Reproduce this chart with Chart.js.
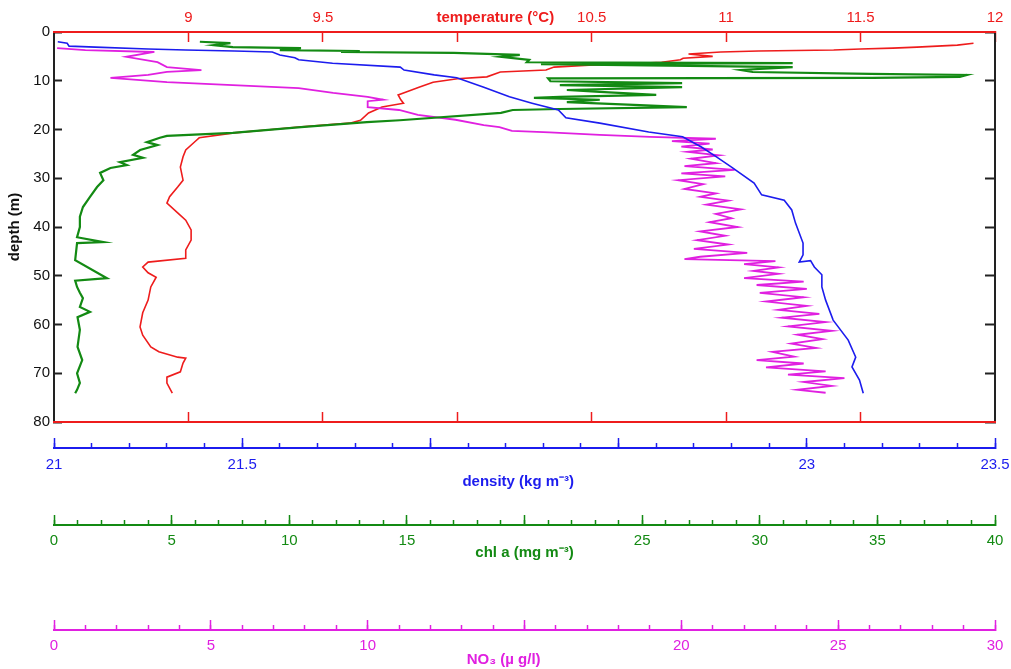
<!DOCTYPE html>
<html>
<head>
<meta charset="utf-8">
<title>Depth profile</title>
<script src="https://cdn.jsdelivr.net/npm/chart.js@4.4.0/dist/chart.umd.min.js"></script>
<style>
    html, body { margin: 0; padding: 0; background: #fff; }
    #wrap { width: 1011px; height: 669px; }
</style>
</head>
<body>
<div id="wrap"><canvas id="profileChart" width="1011" height="669"></canvas></div>
<script>
// Temperature profile (degC) against depth (m)
const tempDepth = [2.3, 2.7, 3.1, 3.3, 3.5, 3.7, 3.9, 4.1, 4.5, 5.0, 5.4, 5.7, 6.2, 6.4, 6.8, 7.2, 7.8, 8.2, 9.2, 9.6,
    10.3, 11.3, 12.3, 12.9, 13.9, 14.6, 15.4, 16.6, 18.1, 18.7, 19.5, 20.1, 20.7, 21.7, 22.2, 24.2, 25.6, 27.7, 30.4, 31.8,
    33.8, 35.1, 37.1, 38.6, 40.6, 42.7, 44.7, 46.4, 47.2, 48.2, 49.4, 50.3, 52.3, 55.0, 57.6, 60.5, 62.2, 64.6, 65.6, 66.7,
    66.9, 67.9, 69.7, 70.8, 72.0, 74.1];
const tempValues = [11.92, 11.86, 11.71, 11.62, 11.50, 11.40, 11.12, 10.98, 10.86, 10.95, 10.84, 10.83, 10.76, 10.68, 10.49, 10.36, 10.33, 10.16, 10.11, 10.00,
    9.91, 9.86, 9.81, 9.78, 9.79, 9.80, 9.72, 9.67, 9.64, 9.60, 9.41, 9.29, 9.17, 9.04, 9.03, 8.99, 8.98, 8.97, 8.98, 8.96,
    8.93, 8.92, 8.96, 8.99, 9.01, 9.01, 8.99, 8.99, 8.85, 8.83, 8.85, 8.88, 8.86, 8.85, 8.83, 8.82, 8.83, 8.86, 8.89, 8.96,
    8.99, 8.98, 8.97, 8.92, 8.92, 8.94];

// Density (kg m-3)
const densDepth = [2.0, 2.3, 2.9, 3.1, 3.5, 3.7, 3.9, 4.1, 4.7, 5.3, 5.7, 6.4, 7.2, 7.8, 8.8, 9.4, 11.3, 13.3, 14.6, 16.0,
    17.6, 18.7, 20.5, 21.5, 23.6, 25.6, 27.7, 31.0, 33.4, 34.5, 36.5, 39.2, 43.3, 45.7, 47.2, 46.9, 48.2, 49.8, 52.3, 55.0,
    59.1, 63.2, 66.7, 68.7, 71.4, 74.1];
const densValues = [21.01, 21.035, 21.04, 21.11, 21.25, 21.35, 21.48, 21.58, 21.60, 21.64, 21.65, 21.74, 21.92, 21.93, 22.01, 22.07, 22.14, 22.21, 22.27, 22.34,
    22.36, 22.45, 22.58, 22.67, 22.72, 22.76, 22.80, 22.86, 22.88, 22.94, 22.96, 22.97, 22.99, 22.99, 22.98, 23.01, 23.02, 23.04, 23.04, 23.05,
    23.07, 23.11, 23.13, 23.12, 23.14, 23.15];

// Chlorophyll a (mg m-3)
const chlDepth = [2.0, 2.3, 2.7, 3.1, 3.3, 3.7, 3.9, 4.1, 4.3, 4.7, 5.1, 5.7, 6.2, 6.4, 6.6, 7.0, 7.2, 7.8, 8.2, 8.6,
    8.8, 9.2, 9.4, 9.5, 10.1, 10.5, 10.9, 11.3, 11.9, 12.3, 12.9, 13.3, 13.5, 13.9, 14.4, 15.0, 15.4, 15.8, 16.0, 16.6,
    18.1, 18.5, 19.5, 20.7, 21.3, 21.7, 22.6, 23.2, 24.2, 25.2, 25.8, 26.7, 27.3, 27.9, 28.9, 30.4, 31.8, 33.8, 35.9, 37.9,
    40.0, 42.1, 43.1, 43.3, 46.8, 50.5, 51.0, 52.3, 53.5, 54.6, 56.4, 57.4, 58.5, 61.1, 64.6, 67.3, 70.0, 72.0, 73.4, 74.1];
const chlValues = [6.2, 7.5, 6.8, 7.6, 10.5, 9.6, 13.0, 12.2, 17.0, 19.8, 19.0, 20.2, 20.1, 31.4, 20.7, 27.9, 31.4, 29.2, 29.7, 34.7,
    38.8, 38.5, 34.8, 21.0, 21.1, 26.7, 21.5, 26.7, 21.8, 23.2, 25.6, 21.5, 20.4, 23.2, 21.8, 24.9, 26.9, 21.5, 19.5, 19.0,
    14.7, 13.3, 10.5, 7.6, 4.8, 4.5, 3.95, 4.4, 3.66, 3.36, 3.78, 2.8, 3.1, 2.4, 1.96, 2.1, 1.83, 1.53, 1.23, 1.1,
    1.1, 0.98, 2.1, 0.98, 0.9, 2.25, 0.9, 0.98, 1.1, 1.23, 1.1, 1.53, 1.0, 1.1, 1.0, 1.2, 0.98, 1.1, 0.98, 0.9];

// Nitrate (ug/l)
const no3Depth = [3.3, 3.7, 4.1, 5.1, 6.2, 7.2, 7.8, 8.2, 8.8, 9.4, 10.3, 10.9, 11.5, 12.5, 13.3, 13.9, 14.2, 15.4, 16.0, 17.0,
    18.0, 19.1, 19.5, 20.3, 20.6, 21.1, 21.5, 21.9, 22.4, 22.9, 23.5, 24.1, 24.6, 25.3, 26.0, 26.9, 27.5, 28.3, 29.0, 29.6,
    30.4, 31.2, 32.2, 33.1, 33.8, 34.6, 35.4, 36.4, 37.3, 38.2, 39.0, 40.0, 40.9, 41.8, 42.7, 43.6, 44.5, 45.3, 46.1, 46.6,
    47.0, 47.6, 48.3, 49.0, 49.6, 50.5, 51.2, 51.9, 52.7, 53.5, 54.4, 55.3, 56.2, 57.0, 57.8, 58.6, 59.5, 60.4, 61.3, 62.1,
    63.0, 63.9, 64.8, 65.6, 66.6, 67.3, 68.0, 68.8, 69.6, 70.3, 71.0, 71.8, 72.6, 73.4, 74.0];
const no3Values = [0.1, 1.0, 3.2, 2.3, 3.3, 3.6, 4.7, 3.6, 3.0, 1.8, 3.6, 5.7, 7.8, 8.9, 10.0, 10.5, 10.0, 10.0, 11.0, 11.6,
    12.8, 13.7, 14.2, 14.6, 15.8, 17.4, 19.0, 21.1, 19.7, 20.9, 20.0, 21.0, 20.2, 21.2, 20.3, 21.1, 20.1, 21.7, 20.0, 21.4,
    19.9, 20.7, 20.1, 21.1, 20.6, 21.5, 20.8, 21.9, 21.1, 21.6, 20.9, 21.8, 20.6, 21.4, 20.5, 21.5, 20.4, 22.1, 20.6, 20.1,
    23.0, 22.0, 23.1, 22.3, 23.1, 22.0, 23.9, 22.4, 24.0, 22.5, 23.9, 22.7, 24.0, 23.1, 24.4, 23.2, 24.6, 23.4, 24.8, 23.7,
    24.5, 23.5, 24.3, 22.9, 23.6, 22.4, 23.9, 22.7, 24.6, 23.4, 25.2, 23.9, 24.8, 23.7, 24.6];

// Ticks and labels
const depthTicks = [0, 10, 20, 30, 40, 50, 60, 70, 80];
const tempTicks = [9, 9.5, 10, 10.5, 11, 11.5, 12];
const tempLabels = ['9', '9.5', '', '10.5', '11', '11.5', '12'];
const densMajor = [21, 21.5, 22, 22.5, 23, 23.5];
const densLabels = ['21', '21.5', '', '', '23', '23.5'];
const densMinor = [21, 21.1, 21.2, 21.3, 21.4, 21.5, 21.6, 21.7, 21.8, 21.9, 22, 22.1, 22.2, 22.3, 22.4, 22.5,
    22.6, 22.7, 22.8, 22.9, 23, 23.1, 23.2, 23.3, 23.4, 23.5];
const chlMajor = [0, 5, 10, 15, 20, 25, 30, 35, 40];
const chlLabels = ['0', '5', '10', '15', '', '25', '30', '35', '40'];
const chlMinor = [0, 1, 2, 3, 4, 5, 6, 7, 8, 9, 10, 11, 12, 13, 14, 15, 16, 17, 18, 19, 20,
    21, 22, 23, 24, 25, 26, 27, 28, 29, 30, 31, 32, 33, 34, 35, 36, 37, 38, 39, 40];
const no3Major = [0, 5, 10, 15, 20, 25, 30];
const no3Labels = ['0', '5', '10', '', '20', '25', '30'];
const no3Minor = [0, 1, 2, 3, 4, 5, 6, 7, 8, 9, 10, 11, 12, 13, 14, 15, 16, 17, 18, 19, 20,
    21, 22, 23, 24, 25, 26, 27, 28, 29, 30];

const RED = '#ee1c1c';
const BLUE = '#1c1cee';
const GREEN = '#138a13';
const MAGENTA = '#e020e0';
const BLACK = '#222';
const NONE = 'rgba(0,0,0,0)';

Chart.defaults.font.family = '"Liberation Sans", Arial, sans-serif';
Chart.defaults.font.size = 15;

function pairs(depths, values) {
    return depths.map((d, i) => ({ x: values[i], y: d }));
}

function fixedTicks(values) {
    return function(scale) { scale.ticks = values.map(v => ({ value: v })); };
}

function labelsFrom(labels) {
    return function(value, index) { return labels[index]; };
}

// Scale that only draws tick marks (negative length = pointing into the plot / upward)
function tickScale(position, weight, min, max, values, len, color, size) {
    return {
        type: 'linear', axis: 'x', position: position, weight: weight, min: min, max: max,
        afterBuildTicks: fixedTicks(values),
        afterFit: s => { s.height = size; },
        ticks: { display: false },
        grid: { drawOnChartArea: false, drawTicks: true, tickLength: len, color: color, tickWidth: 1.5 },
        border: { display: true, color: color, width: 2 }
    };
}

// Scale that carries the labels and the title (its own tick marks are invisible)
function labelScale(position, weight, min, max, values, labels, color, size, offset, title, titlePad) {
    return {
        type: 'linear', axis: 'x', position: position, weight: weight, min: min, max: max,
        afterBuildTicks: fixedTicks(values),
        afterFit: s => { s.height = size; },
        ticks: { color: color, padding: 0, autoSkip: false, maxRotation: 0, minRotation: 0, callback: labelsFrom(labels) },
        grid: { drawOnChartArea: false, drawTicks: true, tickLength: offset, color: NONE, tickColor: NONE },
        border: { display: true, color: color, width: 2 },
        title: {
            display: true, text: title, color: color, font: { weight: 'bold' },
            padding: position === 'top' ? { top: titlePad, bottom: 0 } : { top: 0, bottom: titlePad }
        }
    };
}

const ctx = document.getElementById('profileChart').getContext('2d');
new Chart(ctx, {
    type: 'scatter',
    data: {
        datasets: [{
            label: 'density',
            data: pairs(densDepth, densValues),
            xAxisID: 'dLab', yAxisID: 'y',
            borderColor: BLUE, borderWidth: 1.6
        }, {
            label: 'chl a',
            data: pairs(chlDepth, chlValues),
            xAxisID: 'cLab', yAxisID: 'y',
            borderColor: GREEN, borderWidth: 2.2
        }, {
            label: 'NO3',
            data: pairs(no3Depth, no3Values),
            xAxisID: 'nLab', yAxisID: 'y',
            borderColor: MAGENTA, borderWidth: 1.8
        }, {
            label: 'temperature',
            data: pairs(tempDepth, tempValues),
            xAxisID: 'xT', yAxisID: 'y',
            borderColor: RED, borderWidth: 1.6
        }].map(ds => Object.assign(ds, { showLine: true, pointRadius: 0, fill: false, tension: 0 }))
    },
    options: {
        responsive: false,
        animation: false,
        layout: { padding: 0 },
        plugins: { legend: { display: false }, tooltip: { enabled: false } },
        scales: {
            y: {
                type: 'linear', axis: 'y', position: 'left', reverse: true, min: 0, max: 80,
                afterBuildTicks: fixedTicks(depthTicks),
                afterFit: s => { s.width = 54; },
                ticks: { color: '#111', padding: 12 },
                grid: { drawOnChartArea: false, drawTicks: true, tickLength: -8, color: BLACK, tickWidth: 2 },
                border: { display: true, color: BLACK, width: 2 },
                title: { display: true, text: 'depth (m)', color: '#111', font: { weight: 'bold' }, padding: { top: 6, bottom: 0 } }
            },
            yR: {
                type: 'linear', axis: 'y', position: 'right', reverse: true, min: 0, max: 80,
                afterBuildTicks: fixedTicks(depthTicks),
                afterFit: s => { s.width = 16; },
                ticks: { display: false },
                grid: { drawOnChartArea: false, drawTicks: true, tickLength: -10, color: BLACK, tickWidth: 2 },
                border: { display: true, color: BLACK, width: 2 }
            },
            // temperature: labels on top, tick marks on the top and bottom frame
            xT: labelScale('top', 2, 8.5, 12, tempTicks, tempLabels, RED, 32, 5,
                'temperature (\u00B0C)' + '\u00a0'.repeat(14), 9),
            xTt: tickScale('top', 1, 8.5, 12, tempTicks, -10, RED, 0),
            xTb: tickScale('bottom', 1, 8.5, 12, tempTicks.slice(0, 6), -10, RED, 26),
            // density
            dMin: tickScale('bottom', 2, 21, 23.5, densMinor, -5, BLUE, 0),
            dTk: tickScale('bottom', 3, 21, 23.5, densMajor, -10, BLUE, 0),
            dLab: labelScale('bottom', 4, 21, 23.5, densMajor, densLabels, BLUE, 77, 8,
                'density (kg m\u207B\u00B3)' + '\u00a0'.repeat(3), 34),
            // chl a
            cMin: tickScale('bottom', 5, 0, 40, chlMinor, -5, GREEN, 0),
            cTk: tickScale('bottom', 6, 0, 40, chlMajor, -10, GREEN, 0),
            cLab: labelScale('bottom', 7, 0, 40, chlMajor, chlLabels, GREEN, 105, 7,
                'chl a (mg m\u207B\u00B3)', 68),
            // NO3
            nMin: tickScale('bottom', 8, 0, 30, no3Minor, -5, MAGENTA, 0),
            nTk: tickScale('bottom', 9, 0, 30, no3Major, -10, MAGENTA, 0),
            nLab: labelScale('bottom', 10, 0, 30, no3Major, no3Labels, MAGENTA, 39, 7,
                'NO\u2083 (\u00B5 g/l)' + '\u00a0'.repeat(10), 0)
        }
    }
});
</script>
</body>
</html>
